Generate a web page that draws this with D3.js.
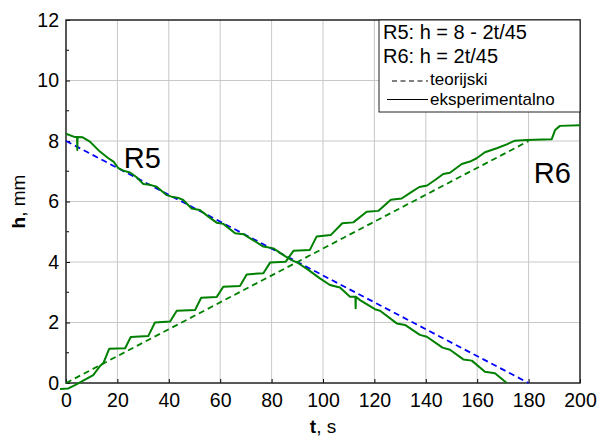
<!DOCTYPE html>
<html>
<head>
<meta charset="utf-8">
<script src="https://cdn.jsdelivr.net/npm/d3@7"></script>
<style>
  body { margin: 0; background: #fff; }
  text { font-family: "Liberation Sans", Arial, sans-serif; fill: #000; }
</style>
</head>
<body>
<div id="canvas"></div>
<script>
// experimental R5 (draining), t in s, h in mm
const r5T = [0, 3.5, 4.3, 4.4, 4.5, 6.5, 9.3, 13.2, 16.5, 18.5, 20.4, 22.3, 24.9, 27.5, 30.1, 32.7, 35.3,
  39.2, 41.1, 43.7, 45.6, 48.9, 52.1, 55.4, 58.6, 61.2, 65.8, 69.0, 72.3, 76.8, 80.7, 84.6, 87.2,
  90.4, 94.3, 98.8, 102.7, 106.6, 110.5, 112.6, 112.7, 112.8, 114.4, 120.2, 122.2, 128.7, 131.9,
  137.7, 140.4, 146.5, 149.4, 154.6, 157.9, 163.0, 166.9, 171.5];
const r5H = [8.24, 8.13, 8.13, 7.7, 8.13, 8.12, 7.98, 7.65, 7.43, 7.32, 7.10, 7.02, 6.96, 6.80, 6.58, 6.55, 6.49,
  6.21, 6.16, 6.12, 6.05, 5.77, 5.72, 5.50, 5.30, 5.26, 4.95, 4.92, 4.75, 4.51, 4.45, 4.23, 4.09,
  3.96, 3.74, 3.46, 3.24, 3.16, 2.85, 2.85, 2.47, 2.85, 2.74, 2.44, 2.39, 1.97, 1.92,
  1.59, 1.53, 1.17, 1.10, 0.78, 0.74, 0.37, 0.32, 0.0];

// experimental R6 (filling)
const r6T = [-2.3, 0.9, 3.5, 6.7, 10.6, 13.2, 14.5, 16.8, 23.0, 25.2, 32.0, 34.6, 40.5, 43.1, 50.2, 52.6,
  58.6, 61.2, 67.7, 70.3, 76.8, 79.4, 85.5, 88.5, 94.9, 97.5, 103.0, 107.5, 111.8, 117.0, 121.5,
  126.4, 130.6, 134.5, 137.5, 140.5, 143.6, 146.8, 149.4, 154.0, 157.2, 159.8, 163.0, 167.6,
  171.5, 174.7, 179.3, 189.0, 190.3, 192.2, 200];
const r6H = [-0.2, -0.18, -0.07, 0.08, 0.26, 0.56, 0.65, 1.13, 1.15, 1.52, 1.55, 2.0, 2.03, 2.39, 2.41, 2.82,
  2.84, 3.18, 3.21, 3.59, 3.63, 3.98, 4.01, 4.37, 4.40, 4.84, 4.89, 5.28, 5.31, 5.66, 5.69,
  6.06, 6.10, 6.32, 6.48, 6.53, 6.71, 6.91, 6.95, 7.24, 7.32, 7.43, 7.63, 7.76,
  7.89, 8.01, 8.03, 8.06, 8.36, 8.50, 8.52];

// theory lines: R5 h = 8 - 2t/45, R6 h = 2t/45
const thT = [0, 180];
const thR5 = [8, 0];
const thR6 = [0, 8];

const xTicks = [0, 20, 40, 60, 80, 100, 120, 140, 160, 180, 200];
const yTicks = [0, 2, 4, 6, 8, 10, 12];
const yMinor = [1, 3, 5, 7, 9, 11];

const width = 598;
const height = 441;
const margin = { top: 20, left: 66, bottom: 58, right: 18 };
const iwidth = width - margin.left - margin.right;
const iheight = height - margin.top - margin.bottom;

const svg = d3.select("#canvas").append("svg")
  .attr("width", width)
  .attr("height", height);

const g = svg.append("g")
  .attr("transform", `translate(${margin.left},${margin.top})`);

const x = d3.scaleLinear().domain([0, 200]).range([0, iwidth]);
const y = d3.scaleLinear().domain([0, 12]).range([iheight, 0]);

// grid
g.append("g").selectAll("line").data(xTicks.slice(1, -1)).join("line")
  .attr("x1", d => x(d)).attr("x2", d => x(d))
  .attr("y1", 0).attr("y2", iheight)
  .attr("stroke", "#c8c8c8").attr("stroke-width", 1);
g.append("g").selectAll("line").data(yTicks.slice(1, -1)).join("line")
  .attr("x1", 0).attr("x2", iwidth)
  .attr("y1", d => y(d)).attr("y2", d => y(d))
  .attr("stroke", "#c8c8c8").attr("stroke-width", 1);

// axes
const xAxis = g.append("g")
  .attr("transform", `translate(0,${iheight})`)
  .call(d3.axisBottom(x).tickValues(xTicks).tickSizeInner(-4).tickSizeOuter(0).tickPadding(10));
const yAxis = g.append("g")
  .call(d3.axisLeft(y).tickValues(yTicks).tickSizeInner(-4).tickSizeOuter(0).tickPadding(7));
g.append("g").selectAll("line").data(yMinor).join("line")
  .attr("x1", 0).attr("x2", 3)
  .attr("y1", d => y(d)).attr("y2", d => y(d))
  .attr("stroke", "#000");

[xAxis, yAxis].forEach(a => {
  a.select(".domain").remove();
  a.selectAll("text")
    .style("font-family", "'Liberation Sans', Arial, sans-serif")
    .style("font-size", "19.5px").attr("fill", "#000");
  a.selectAll(".tick line").attr("stroke", "#000");
});

// frame
g.append("rect")
  .attr("width", iwidth).attr("height", iheight)
  .attr("fill", "none").attr("stroke", "#222").attr("stroke-width", 1.5);

const line = d3.line().x(d => x(d[0])).y(d => y(d[1]));

g.append("path").datum(d3.zip(thT, thR5))
  .attr("d", line).attr("fill", "none")
  .attr("stroke", "#0000ff").attr("stroke-width", 1.8).attr("stroke-dasharray", "6,4");
g.append("path").datum(d3.zip(thT, thR6))
  .attr("d", line).attr("fill", "none")
  .attr("stroke", "#008000").attr("stroke-width", 1.8).attr("stroke-dasharray", "6,4");

g.append("path").datum(d3.zip(r5T, r5H))
  .attr("d", line).attr("fill", "none")
  .attr("stroke", "#008000").attr("stroke-width", 2).attr("stroke-linejoin", "round");
g.append("path").datum(d3.zip(r6T, r6H))
  .attr("d", line).attr("fill", "none")
  .attr("stroke", "#008000").attr("stroke-width", 2).attr("stroke-linejoin", "round");

// curve labels
g.append("text").attr("x", x(22.5)).attr("y", y(7.1)).style("font-size", "29px").text("R5");
g.append("text").attr("x", x(182)).attr("y", y(6.6)).style("font-size", "29px").text("R6");

// axis titles
const xt = svg.append("text")
  .attr("x", margin.left + iwidth / 2).attr("y", 433)
  .attr("text-anchor", "middle").style("font-size", "19px");
xt.append("tspan").attr("font-weight", "bold").text("t");
xt.append("tspan").text(", s");

const yt = svg.append("text")
  .attr("transform", `translate(25,${margin.top + iheight / 2}) rotate(-90)`)
  .attr("text-anchor", "middle").style("font-size", "19px");
yt.append("tspan").attr("font-weight", "bold").text("h");
yt.append("tspan").text(", mm");

// legend
const lg = svg.append("g").attr("transform", "translate(379,20)");
lg.append("rect").attr("width", 201).attr("height", 92)
  .attr("fill", "#fff").attr("stroke", "#222").attr("stroke-width", 1);
lg.append("text").attr("x", 4).attr("y", 19).style("font-size", "20px").text("R5: h = 8 - 2t/45");
lg.append("text").attr("x", 4).attr("y", 43).style("font-size", "20px").text("R6: h = 2t/45");
lg.append("line").attr("x1", 13).attr("x2", 49).attr("y1", 61).attr("y2", 61)
  .attr("stroke", "#000").attr("stroke-dasharray", "5,3.5");
lg.append("text").attr("x", 51).attr("y", 65).style("font-size", "17px").text("teorijski");
lg.append("line").attr("x1", 8).attr("x2", 49).attr("y1", 79.5).attr("y2", 79.5)
  .attr("stroke", "#000");
lg.append("text").attr("x", 51).attr("y", 85).style("font-size", "17px").text("eksperimentalno");
</script>
</body>
</html>
